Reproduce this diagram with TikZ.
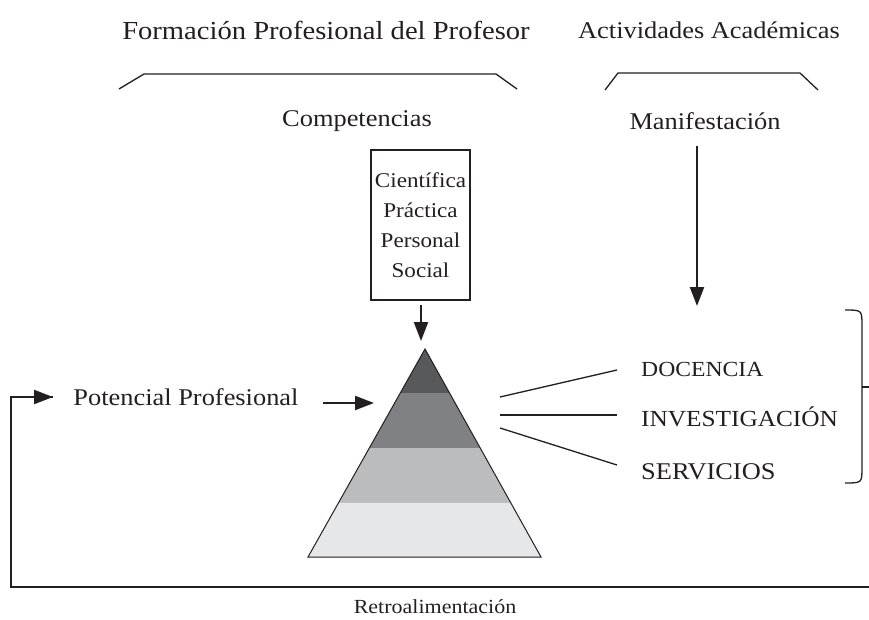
\documentclass[tikz,border=0pt]{standalone}
\usepackage{fontspec}
\setmainfont{Liberation Serif}[FakeStretch=1.1]
\usetikzlibrary{arrows.meta,calc}
\definecolor{bandA}{HTML}{58595B}
\definecolor{bandB}{HTML}{808184}
\definecolor{bandC}{HTML}{BBBCBE}
\definecolor{bandD}{HTML}{E6E7E8}
\definecolor{ink}{HTML}{231F20}
\begin{document}
\begin{tikzpicture}[x=1pt,y=-1pt,
  lbl/.style={inner sep=0pt,text=ink,font=\fontsize{24}{28}\selectfont},
  biglbl/.style={inner sep=0pt,text=ink,font=\fontsize{26}{30}\selectfont},
  smalllbl/.style={inner sep=0pt,text=ink,font=\fontsize{20}{24}\selectfont},
  thinline/.style={draw=ink,line width=1.3pt},
  thickarrow/.style={draw=ink,line width=2.2pt,-{Triangle[length=19pt,width=14pt]}},
  thickline/.style={draw=ink,line width=2.2pt},
  capsbox/.style={draw=ink,line width=1.3pt,align=center,text=ink,
     minimum width=99pt,minimum height=150pt,inner sep=0pt,
     font=\fontsize{21}{30}\selectfont}]
\useasboundingbox (0,0) rectangle (869,619);
% titles
\node[biglbl] (tform) at (326,30) {Formación Profesional del Profesor};
\node[lbl] (tact) at (709,30) {Actividades Académicas};
% brackets
\draw[thinline] (119,89) -- (144,74) -- (496,74) -- (517,89);
\draw[thinline] (605,90) -- (618,73) -- (800,73) -- (818,90);
\node[lbl] (comp) at (357,121) {Competencias};
\node[lbl] (manif) at (705,121) {Manifestación};
% competence box
\node[capsbox] (box) at (420.5,225) {Científica\\Práctica\\Personal\\Social};
% pyramid
\coordinate (apex) at (425,349);
\coordinate (bl) at (308,557);
\coordinate (br) at (541,557);
\coordinate (l1) at ($(apex)!0.2115!(bl)$);
\coordinate (r1) at ($(apex)!0.2115!(br)$);
\coordinate (l2) at ($(apex)!0.476!(bl)$);
\coordinate (r2) at ($(apex)!0.476!(br)$);
\coordinate (l3) at ($(apex)!0.740!(bl)$);
\coordinate (r3) at ($(apex)!0.740!(br)$);
\fill[bandA] (apex) -- (r1) -- (l1) -- cycle;
\fill[bandB] (l1) -- (r1) -- (r2) -- (l2) -- cycle;
\fill[bandC] (l2) -- (r2) -- (r3) -- (l3) -- cycle;
\fill[bandD] (l3) -- (r3) -- (br) -- (bl) -- cycle;
\draw[draw=ink,line width=1pt,line join=miter] (apex) -- (br) -- (bl) -- cycle;
% arrow box -> pyramid
\coordinate (boxin) at (421,341);
\draw[thickarrow] ([yshift=-4pt]box.south -| boxin) -- (boxin);
% manifestation arrow
\coordinate (manifstart) at (697,146);
\coordinate (manifend) at (697,306);
\draw[thickarrow] (manifstart) -- (manifend);
% potencial
\node[lbl] (pot) at (186,397) {Potencial Profesional};
\coordinate (potA) at (323,403);
\coordinate (potB) at (374,403);
\draw[thickarrow] (potA) -- (potB);
% activities
\node[smalllbl,anchor=west,font=\fontsize{21.5}{24}\selectfont] (doc) at (641,369) {DOCENCIA};
\node[lbl,anchor=west,font=\fontsize{23}{28}\selectfont] (inv) at (641,417) {INVESTIGACIÓN};
\node[lbl,anchor=west] (ser) at (641,472) {SERVICIOS};
\coordinate (p1) at (500,397);
\coordinate (p2) at (500,415);
\coordinate (p3) at (500,428);
\coordinate (d1) at (617,370);
\coordinate (d2) at (617,415);
\coordinate (d3) at (617,465);
\draw[thinline] (p1) -- (d1);
\draw[thinline] (p2) -- (d2);
\draw[thinline] (p3) -- (d3);
% brace
\draw[thinline] (845,310) .. controls (862,310) .. (862,326) -- (862,467) .. controls (862,483) .. (845,483);
\coordinate (bracemid) at (862,387);
\coordinate (braceout) at (869,387);
\draw[thinline] (bracemid) -- (braceout);
% feedback
\coordinate (fbR) at (869,587);
\coordinate (fbBL) at (11,587);
\coordinate (fbTL) at (11,397);
\coordinate (fbEnd) at (53,397);
\draw[thickline] (fbR) -- (fbBL) -- (fbTL) -- (fbEnd);
\draw[thickarrow] (fbTL) -- (fbEnd);
\node[smalllbl] (retro) at (435,607) {Retroalimentación};
\end{tikzpicture}
\end{document}
